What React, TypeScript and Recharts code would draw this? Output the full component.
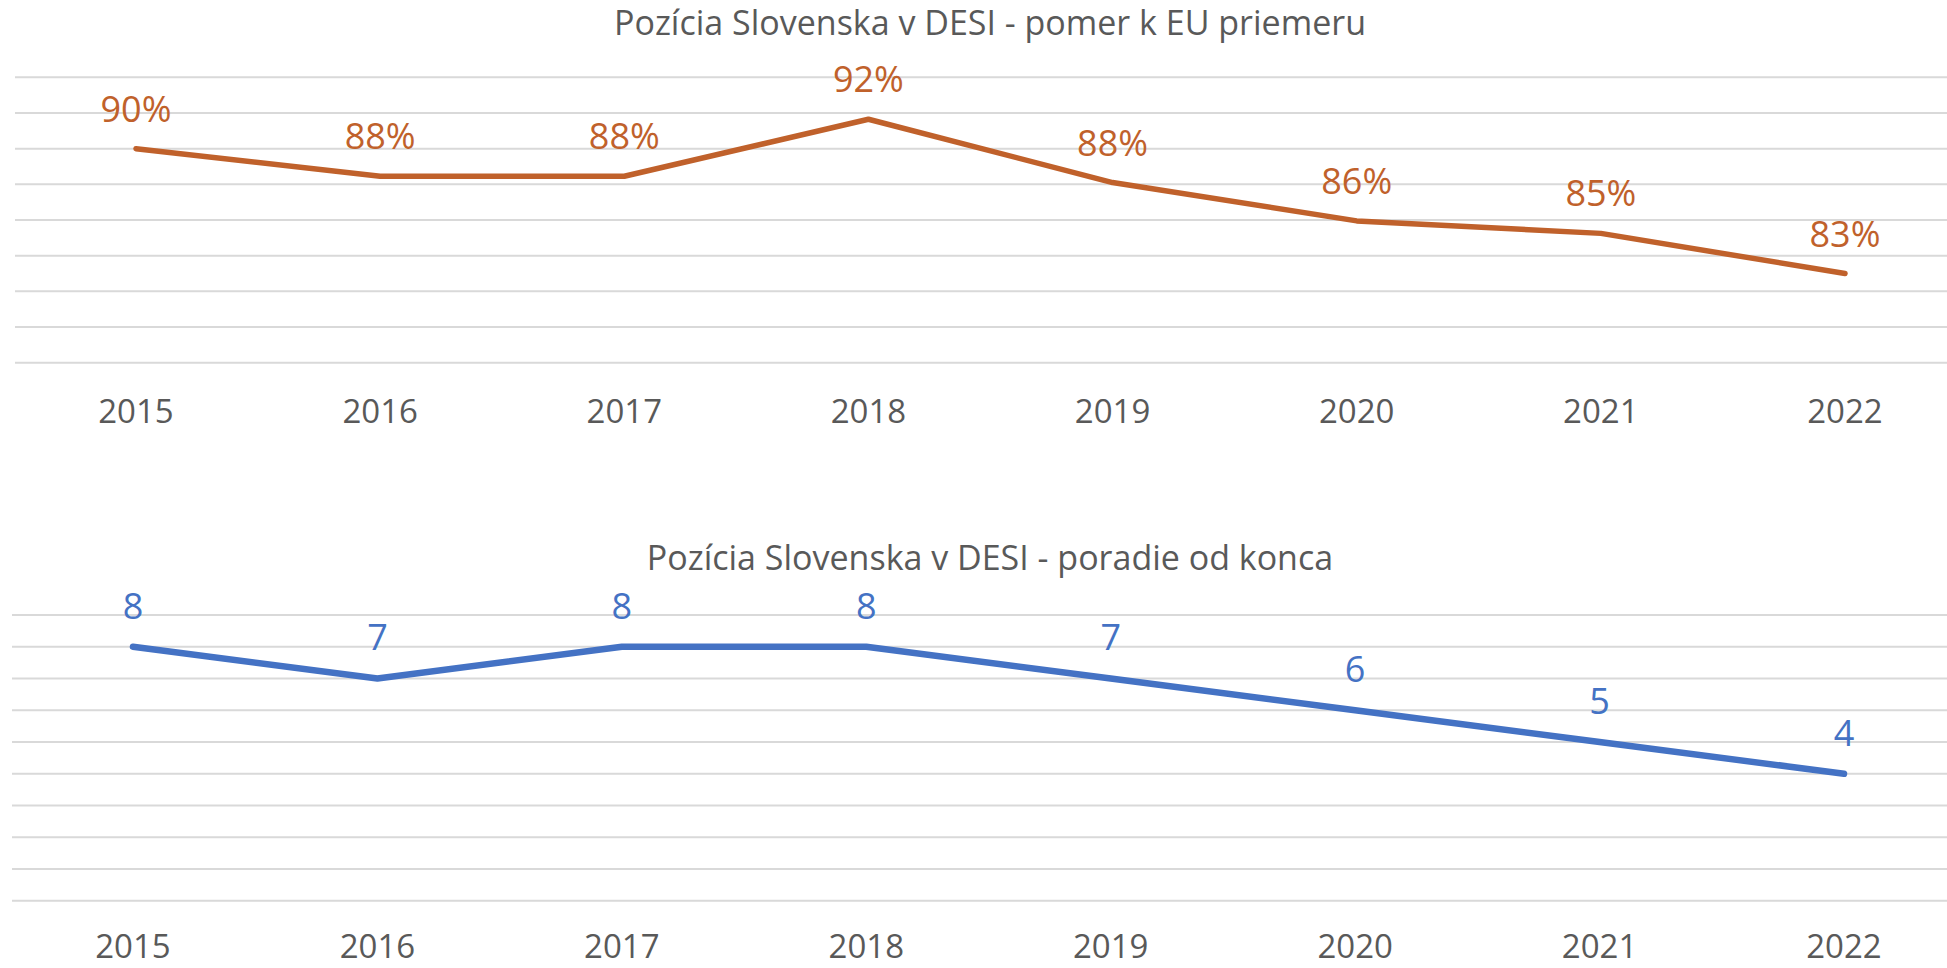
import React from 'react';
import { LineChart, Line, XAxis, YAxis, CartesianGrid, LabelList } from 'recharts';

const years = ['2015', '2016', '2017', '2018', '2019', '2020', '2021', '2022'];
const ratioValues = [0.9, 0.8845, 0.8845, 0.9165, 0.881, 0.8595, 0.8525, 0.83];
const rankValues = [8, 7, 8, 8, 7, 6, 5, 4];
const ratioTicks = [0.78, 0.8, 0.82, 0.84, 0.86, 0.88, 0.9, 0.92, 0.94];
const rankTicks = [0, 1, 2, 3, 4, 5, 6, 7, 8, 9];

const titleTop = 'Pozícia Slovenska v DESI - pomer k EU priemeru';
const titleBottom = 'Pozícia Slovenska v DESI - poradie od konca';

const ratioData = years.map((y, i) => ({ year: y, value: ratioValues[i] }));
const rankData = years.map((y, i) => ({ year: y, value: rankValues[i] }));

const FONT = '"Open Sans", "Noto Sans", sans-serif';
const ORANGE = '#C0612B';
const BLUE = '#4472C4';
const GREY = '#595959';
const GRID = '#D9D9D9';

const titleStyle = (top: number): React.CSSProperties => ({
  position: 'absolute',
  left: 490,
  width: 1000,
  top,
  textAlign: 'center',
  fontFamily: FONT,
  fontSize: 34,
  lineHeight: '34px',
  color: GREY,
  whiteSpace: 'nowrap',
});

export default function App() {
  return (
    <div
      style={{
        position: 'absolute',
        left: 0,
        top: 0,
        width: 1947,
        height: 968,
        overflow: 'hidden',
        background: '#fff',
        fontFamily: FONT,
      }}
    >
      <div style={titleStyle(4.8)}>{titleTop}</div>
      <div style={{ position: 'absolute', left: 0, top: 0 }}>
        <LineChart
          width={1947}
          height={440}
          data={ratioData}
          margin={{ top: 77.3, right: 0, bottom: 37.3, left: 15 }}
        >
          <CartesianGrid vertical={false} stroke={GRID} strokeWidth={2} />
          <XAxis
            dataKey="year"
            axisLine={false}
            tickLine={false}
            tickSize={0}
            tickMargin={37.2}
            height={40}
            padding={{ left: 121, right: 102 }}
            tick={{ fill: GREY, fontSize: 33, fontFamily: FONT }}
            interval={0}
          />
          <YAxis hide domain={[0.78, 0.94]} ticks={ratioTicks} type="number" />
          <Line
            type="linear"
            dataKey="value"
            stroke={ORANGE}
            strokeWidth={5.5}
            strokeLinecap="round"
            strokeLinejoin="round"
            dot={false}
            activeDot={false}
            isAnimationActive={false}
          >
            <LabelList
              dataKey="value"
              position="top"
              offset={27}
              formatter={(v: number) => `${Math.round(v * 100)}%`}
              style={{ fill: ORANGE, fontSize: 36, fontFamily: FONT }}
            />
          </Line>
        </LineChart>
      </div>

      <div style={titleStyle(539.8)}>{titleBottom}</div>
      <div style={{ position: 'absolute', left: 0, top: 500 }}>
        <LineChart
          width={1947}
          height={468}
          data={rankData}
          margin={{ top: 115, right: 0, bottom: 27.3, left: 12 }}
        >
          <CartesianGrid vertical={false} stroke={GRID} strokeWidth={2} />
          <XAxis
            dataKey="year"
            axisLine={false}
            tickLine={false}
            tickSize={0}
            tickMargin={34}
            height={40}
            padding={{ left: 121, right: 103 }}
            tick={{ fill: GREY, fontSize: 33, fontFamily: FONT }}
            interval={0}
          />
          <YAxis hide domain={[0, 9]} ticks={rankTicks} type="number" />
          <Line
            type="linear"
            dataKey="value"
            stroke={BLUE}
            strokeWidth={6.5}
            strokeLinecap="round"
            strokeLinejoin="round"
            dot={false}
            activeDot={false}
            isAnimationActive={false}
          >
            <LabelList
              dataKey="value"
              position="top"
              offset={28}
              style={{ fill: BLUE, fontSize: 36, fontFamily: FONT }}
            />
          </Line>
        </LineChart>
      </div>
    </div>
  );
}
